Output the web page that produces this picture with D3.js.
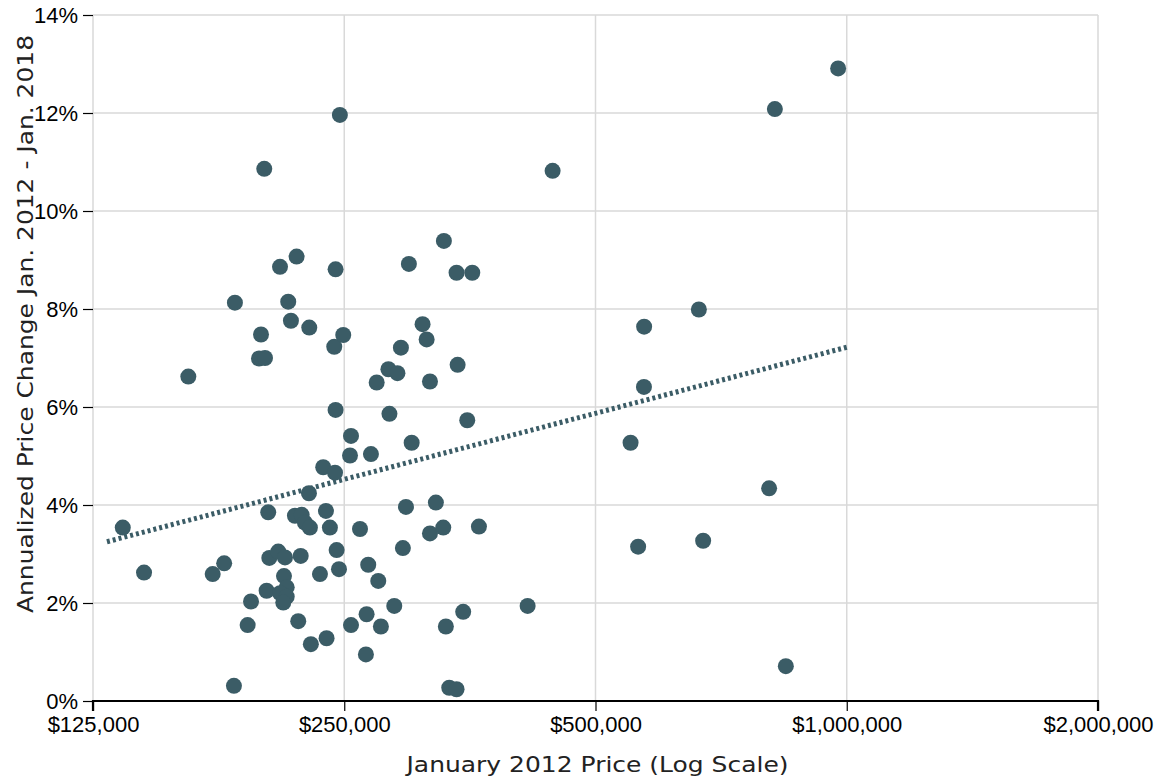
<!DOCTYPE html>
<html>
<head>
<meta charset="utf-8">
<script src="https://cdnjs.cloudflare.com/ajax/libs/d3/7.8.5/d3.min.js"></script>
<style>
  html, body { margin: 0; padding: 0; background: #fff; }
  svg { display: block; }
</style>
</head>
<body>
<svg id="chart" width="1159" height="781"></svg>
<script>
// January 2012 price (USD)
const prices = [
  247000, 200500, 162600, 184900, 198700, 197600, 200900, 209400, 219200, 214200,
  215800, 227000, 244100, 243200, 249300, 273400, 282400, 289500, 244100, 283200,
  254700, 254000, 269100, 235900, 243700, 226800, 135700, 143900, 173900, 179500,
  184400, 193300, 191500, 202700, 201800, 203300, 208400, 212300, 211700, 213300,
  209400, 213300, 211300, 221700, 218200, 222300, 224300, 227400, 220200, 228000,
  233800, 237700, 240300, 238100, 244800, 246400, 261100, 267100, 265900, 274600,
  254700, 265400, 276600, 287000, 293900, 298800, 340800, 355900, 310300, 313800,
  292300, 316700, 341800, 351000, 301100, 296400, 321900, 665000, 571800, 571500,
  550800, 807200, 316700, 328500, 362500, 347100, 330900, 414600, 334000, 340800,
  562400, 672900, 444200, 329100, 820100, 976500, 845300
];
// Annualized price change Jan. 2012 - Jan. 2018 (%)
const changes = [
  11.96, 10.86, 6.62, 8.13, 7.48, 6.99, 7.00, 8.86, 9.07, 8.15,
  7.76, 7.62, 8.81, 7.23, 7.47, 6.50, 6.77, 6.69, 5.94, 5.86,
  5.41, 5.01, 5.04, 4.77, 4.66, 4.24, 3.54, 2.62, 2.59, 2.81,
  0.31, 2.03, 1.55, 3.85, 2.25, 2.92, 3.05, 2.93, 2.55, 2.32,
  2.20, 2.13, 2.01, 2.96, 3.78, 3.80, 3.64, 3.54, 1.63, 1.16,
  2.59, 3.88, 3.54, 1.28, 3.08, 2.69, 3.51, 2.78, 1.77, 2.45,
  1.55, 0.95, 1.52, 1.94, 3.12, 8.92, 8.74, 8.74, 7.69, 7.38,
  7.21, 6.52, 6.86, 5.73, 5.27, 3.96, 4.05, 7.99, 7.64, 6.41,
  5.27, 4.34, 3.42, 3.54, 3.56, 1.82, 1.52, 1.94, 0.27, 0.24,
  3.15, 3.27, 10.82, 9.39, 12.08, 12.91, 0.71
];
// Trend line end points
const trendPrices = [129900, 1000000];
const trendChanges = [3.25, 7.22];
// Tick values
const xTicks = [125000, 250000, 500000, 1000000, 2000000];
const yTicks = [0, 2, 4, 6, 8, 10, 12, 14];

const xTitle = "January 2012 Price (Log Scale)";
const yTitle = "Annualized Price Change Jan. 2012 - Jan. 2018";

const svg = d3.select("#chart");
const mLeft = 93, mRight = 1098, mTop = 15, mBottom = 701;

const x = d3.scaleLog().domain([125000, 2000000]).range([mLeft, mRight]);
const y = d3.scaleLinear().domain([0, 14]).range([mBottom, mTop]);

const dotColor = "#3b5c66";
const gridColor = "#d9d9d9";

// gridlines
svg.append("g").selectAll("line").data(xTicks).join("line")
  .attr("x1", d => x(d)).attr("x2", d => x(d))
  .attr("y1", mTop).attr("y2", mBottom)
  .attr("stroke", gridColor).attr("stroke-width", 1.5);
svg.append("g").selectAll("line").data(yTicks).join("line")
  .attr("x1", mLeft).attr("x2", mRight)
  .attr("y1", d => y(d)).attr("y2", d => y(d))
  .attr("stroke", gridColor).attr("stroke-width", 1.5);

// y axis (ticks + labels, no domain line)
const yAxis = svg.append("g").attr("transform", `translate(${mLeft},0)`)
  .call(d3.axisLeft(y).tickValues(yTicks).tickSize(10).tickPadding(5).tickFormat(d => d + "%"));
yAxis.select(".domain").remove();
yAxis.selectAll(".tick line").attr("stroke", "#000").attr("stroke-width", 1.2);
yAxis.selectAll("text").attr("font-family", "Liberation Sans, Arial, sans-serif")
  .attr("font-size", 22).attr("fill", "#000");

// x axis
const xAxis = svg.append("g").attr("transform", `translate(0,${mBottom})`)
  .call(d3.axisBottom(x).tickValues(xTicks).tickSize(10).tickPadding(5)
    .tickFormat(d => "$" + d3.format(",")(d)));
xAxis.select(".domain").attr("stroke", "#000").attr("stroke-width", 2.2)
  .attr("d", `M${mLeft},10V0H${mRight}V10`);
xAxis.selectAll(".tick line").attr("stroke", "#000").attr("stroke-width", 1.2);
xAxis.selectAll("text").attr("font-family", "Liberation Sans, Arial, sans-serif")
  .attr("font-size", 22).attr("fill", "#000");

// trend line
const trend = trendPrices.map((p, i) => [p, trendChanges[i]]);
svg.append("path")
  .attr("d", d3.line().x(d => x(d[0])).y(d => y(d[1]))(trend))
  .attr("fill", "none").attr("stroke", dotColor)
  .attr("stroke-width", 5).attr("stroke-dasharray", "3,3");

// dots
const pts = prices.map((p, i) => ({ p, c: changes[i] }));
svg.append("g").selectAll("circle").data(pts).join("circle")
  .attr("cx", d => x(d.p)).attr("cy", d => y(d.c)).attr("r", 8)
  .attr("fill", dotColor);

// titles
svg.append("text")
  .attr("x", (mLeft + mRight) / 2 + 2).attr("y", 772)
  .attr("text-anchor", "middle")
  .attr("font-family", "'DejaVu Sans', sans-serif")
  .attr("font-size", 22).attr("fill", "#222")
  .attr("textLength", 382).attr("lengthAdjust", "spacingAndGlyphs")
  .text(xTitle);

svg.append("text")
  .attr("transform", `translate(33,${(613 + 35) / 2}) rotate(-90)`)
  .attr("text-anchor", "middle")
  .attr("font-family", "'DejaVu Sans', sans-serif")
  .attr("font-size", 22).attr("fill", "#222")
  .attr("textLength", 578).attr("lengthAdjust", "spacingAndGlyphs")
  .text(yTitle);
</script>
</body>
</html>
